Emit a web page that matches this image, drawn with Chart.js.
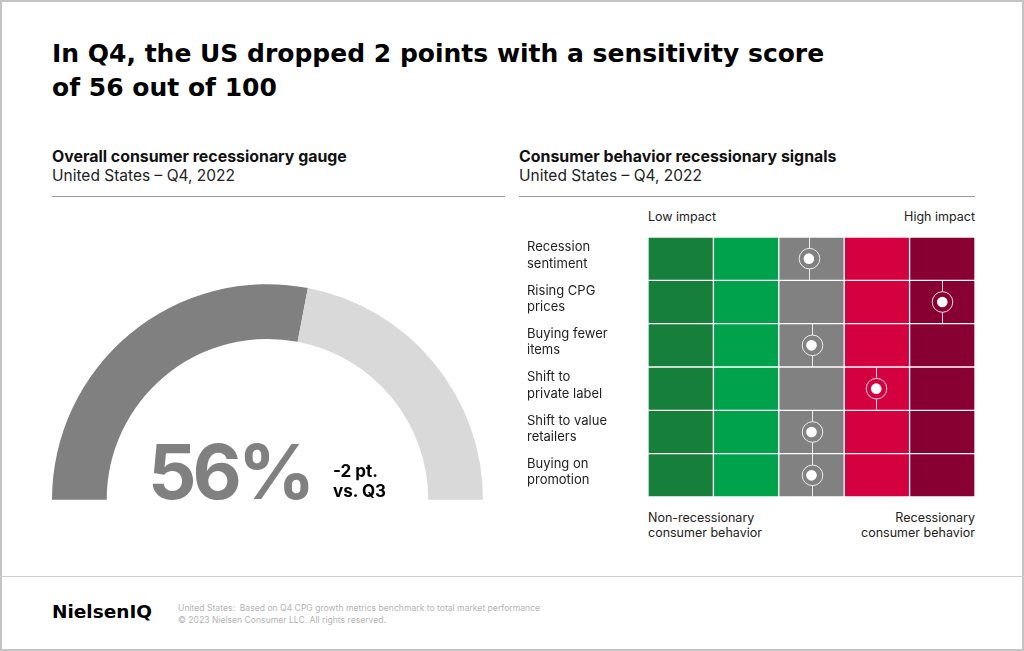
<!DOCTYPE html>
<html>
<head>
<meta charset="utf-8">
<script src="https://cdn.jsdelivr.net/npm/chart.js@4.4.0/dist/chart.umd.min.js"></script>
<style>
  body { margin: 0; width: 1024px; height: 651px; position: relative; overflow: hidden; background: #fff; font-family: Inter, "Noto Sans", sans-serif; color: #111; }
  .frame { position: absolute; left: 0; top: 0; width: 1020px; height: 647px; border: 2px solid #c4c4c4; }
  .t { position: absolute; white-space: nowrap; }
  .rule { position: absolute; height: 1px; background: #9a9a9a; }
  canvas { position: absolute; }
</style>
</head>
<body>
<div class="frame"></div>

<div class="t" style="left:52px;top:37px;font-family:'DejaVu Sans';font-size:25px;font-weight:700;line-height:34px;color:#000;">In Q4, the US dropped 2 points with a sensitivity score<br>of 56 out of 100</div>

<div class="t" style="left:52px;top:147px;font-size:15.9px;font-weight:700;line-height:19px;">Overall consumer recessionary gauge</div>
<div class="t" style="left:52px;top:166px;font-size:15.5px;line-height:19px;color:#222;">United States – Q4, 2022</div>
<div class="rule" style="left:52px;top:196px;width:453px;"></div>

<div class="t" style="left:519px;top:147px;font-size:15.9px;font-weight:700;line-height:19px;">Consumer behavior recessionary signals</div>
<div class="t" style="left:519px;top:166px;font-size:15.5px;line-height:19px;color:#222;">United States – Q4, 2022</div>
<div class="rule" style="left:519px;top:196px;width:456px;"></div>

<canvas id="gauge" width="431" height="216" style="left:52px;top:284px;"></canvas>
<div class="t" style="left:148px;top:433px;font-size:76px;font-weight:700;line-height:76px;color:#808080;letter-spacing:-4px;">56%</div>
<div class="t" style="left:333px;top:461px;font-size:17px;font-weight:700;line-height:20px;color:#000;">-2 pt.<br>vs. Q3</div>

<div class="t" style="left:648px;top:209px;font-size:12.5px;line-height:15px;color:#222;">Low impact</div>
<div class="t" style="right:49px;top:209px;font-size:12.5px;line-height:15px;color:#222;text-align:right;">High impact</div>
<canvas id="signals" width="448" height="275" style="left:527px;top:230px;"></canvas>
<div class="t" style="left:648px;top:511px;font-size:12.5px;line-height:14.5px;color:#222;">Non-recessionary<br>consumer behavior</div>
<div class="t" style="right:49px;top:511px;font-size:12.5px;line-height:14.5px;color:#222;text-align:right;">Recessionary<br>consumer behavior</div>

<div class="rule" style="left:0;top:576px;width:1024px;background:#cfcfcf;"></div>
<div class="t" style="left:52px;top:601px;font-family:'DejaVu Sans';font-size:18.5px;font-weight:700;line-height:22px;color:#000;">NielsenIQ</div>
<div class="t" style="left:178px;top:602px;font-size:8.6px;line-height:12px;color:#b3b3b3;">United States:&nbsp; Based on Q4 CPG growth metrics benchmark to total market performance<br>© 2023 Nielsen Consumer LLC. All rights reserved.</div>

<script>
// gauge: share of the score vs the rest of 100
const gaugeValues = [56, 44];
const gaugeColors = ["#808080", "#d9d9d9"];

// signals grid
const rowLabels = [
  ["Recession", "sentiment"],
  ["Rising CPG", "prices"],
  ["Buying fewer", "items"],
  ["Shift to", "private label"],
  ["Shift to value", "retailers"],
  ["Buying on", "promotion"]
];
const impactBands = ["Low", "Mild low", "Neutral", "Mild high", "High"];
const bandColors = ["#177f3c", "#00a24b", "#818181", "#d4003f", "#880032"];
// marker position along the 0-5 impact scale, one per row
const signalScores = [2.46, 4.5, 2.5, 3.49, 2.5, 2.5];

const ringR = 10.3;

window.onload = function () {
  loadGauge(document.querySelector("#gauge"));
  loadSignals(document.querySelector("#signals"));
}

function loadGauge(element) {
  new Chart(element, {
    type: 'doughnut',
    data: {
      labels: ['Score', 'Rest'],
      datasets: [{
        data: gaugeValues,
        backgroundColor: gaugeColors,
        borderWidth: 0
      }]
    },
    options: {
      responsive: false,
      animation: false,
      rotation: -90,
      circumference: 180,
      cutout: '74.6%',
      layout: { padding: 0 },
      plugins: { legend: { display: false }, tooltip: { enabled: false } }
    }
  });
}

//draws the ring and the vertical tick through each marker
const markerDecor = {
  id: 'markerDecor',
  afterDatasetsDraw(chart) {
    const meta = chart.getDatasetMeta(0);
    const rowH = chart.chartArea.height / rowLabels.length;
    const ctx = chart.ctx;
    ctx.save();
    ctx.strokeStyle = 'rgba(255,255,255,0.85)';
    ctx.lineWidth = 1;
    meta.data.forEach(pt => {
      const x = Math.round(pt.x) + 0.5;
      const y = pt.y;
      ctx.beginPath();
      ctx.moveTo(x, y - rowH / 2);
      ctx.lineTo(x, y - ringR);
      ctx.moveTo(x, y + ringR);
      ctx.lineTo(x, y + rowH / 2);
      ctx.stroke();
      ctx.beginPath();
      ctx.arc(x, y, ringR, 0, Math.PI * 2);
      ctx.stroke();
    });
    ctx.restore();
  }
};

function loadSignals(element) {
  const bars = impactBands.map((name, i) => ({
    type: 'bar',
    label: name,
    data: rowLabels.map(() => 1),
    backgroundColor: bandColors[i],
    borderColor: 'rgba(255,255,255,0.85)',
    borderWidth: 1,
    borderSkipped: false,
    barPercentage: 1,
    categoryPercentage: 1,
    order: 1
  }));

  new Chart(element, {
    type: 'bar',
    data: {
      labels: rowLabels,
      datasets: [{
        type: 'scatter',
        label: 'Signal',
        data: signalScores.map((v, i) => ({ x: v, y: i })),
        xAxisID: 'xm',
        pointRadius: 5.3,
        pointBackgroundColor: '#fff',
        pointBorderWidth: 0,
        order: 0
      }].concat(bars)
    },
    options: {
      indexAxis: 'y',
      responsive: false,
      animation: false,
      layout: { autoPadding: false, padding: { top: 7, bottom: 8, left: 0, right: 0 } },
      scales: {
        x: { stacked: true, min: 0, max: 5, display: false },
        xm: { axis: 'x', min: 0, max: 5, display: false },
        y: {
          stacked: true,
          grid: { display: false },
          border: { display: false },
          afterFit(scale) {
            scale.width = 121;
            scale.paddingTop = 0;
            scale.paddingBottom = 0;
          },
          ticks: {
            crossAlign: 'far',
            labelOffset: -3,
            color: '#222',
            font: { family: 'Inter', size: 13, lineHeight: '16.5px' }
          }
        }
      },
      plugins: { legend: { display: false }, tooltip: { enabled: false } }
    },
    plugins: [markerDecor]
  });
}
</script>
</body>
</html>
